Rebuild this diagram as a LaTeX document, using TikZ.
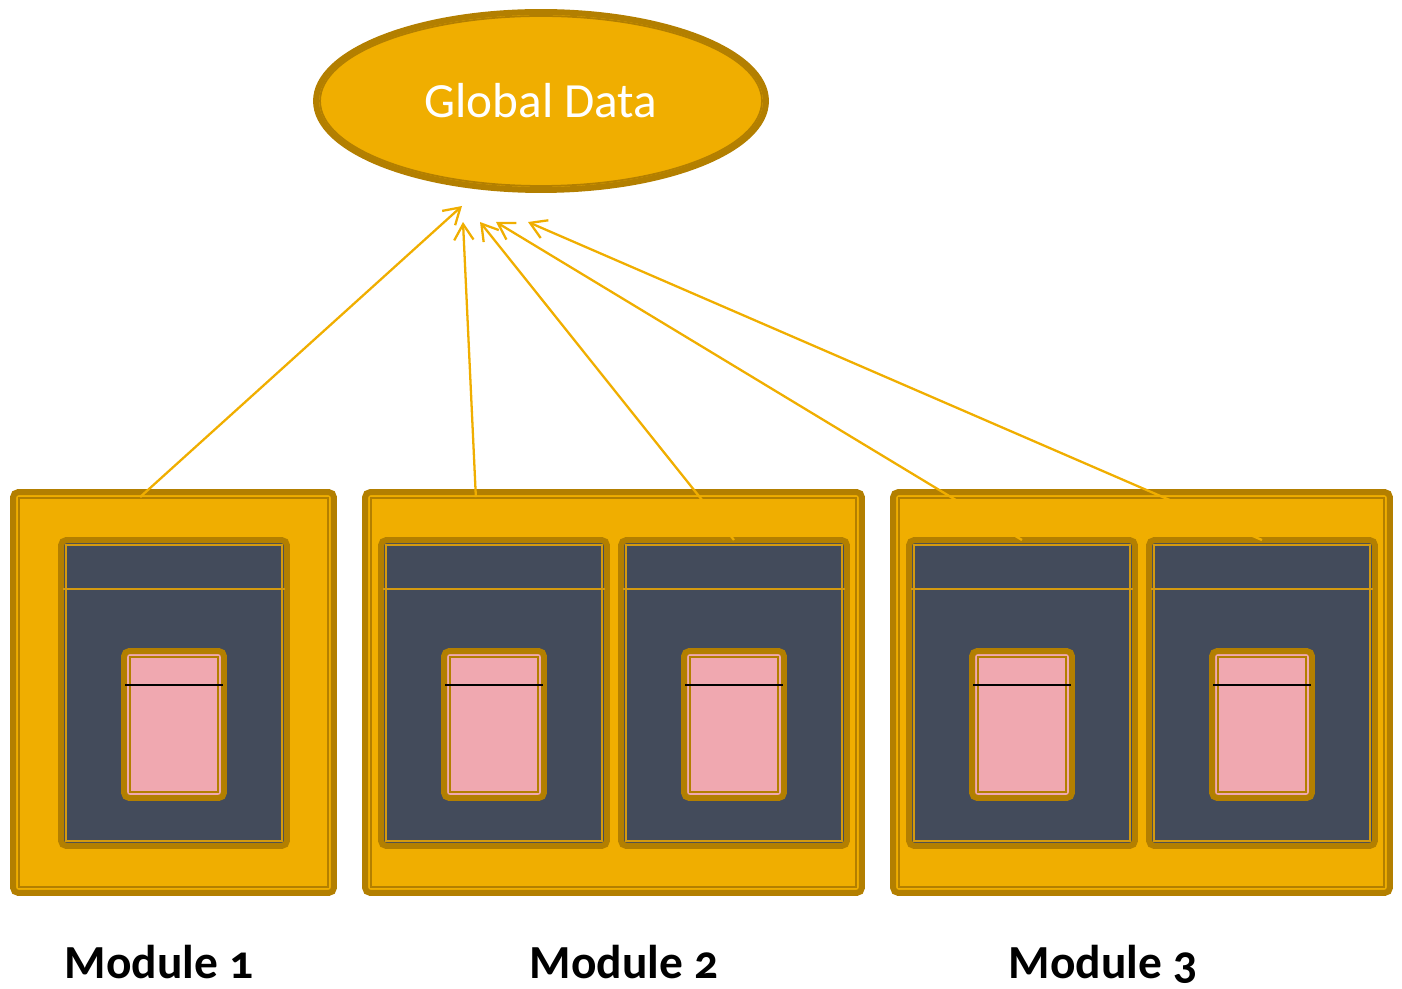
\documentclass[tikz,border=0pt]{standalone}
\usepackage{fontspec}
\setmainfont{Carlito}
\usetikzlibrary{arrows.meta,calc,shapes.geometric}
\definecolor{modgold}{HTML}{F0AE00}
\definecolor{modbrown}{HTML}{B37F00}
\definecolor{modslate}{HTML}{434B5B}
\definecolor{modpink}{HTML}{F0A8B0}
\definecolor{modtrim}{HTML}{D49A10}

\begin{document}
\begin{tikzpicture}[x=0.02cm, y=-0.02cm,
    module/.style={rectangle, draw=modbrown, fill=modgold, line width=3.4pt, rounded corners=3pt, outer sep=0pt, inner sep=0pt, minimum width=9.94cm, minimum height=8.02cm},
    unit/.style={rectangle, draw=modbrown, fill=modslate, line width=3.4pt, rounded corners=3pt, outer sep=0pt, inner sep=0pt, minimum width=4.52cm, minimum height=6.12cm},
    item/.style={rectangle, draw=modbrown, fill=modpink, line width=3.4pt, rounded corners=3pt, outer sep=0pt, inner sep=0pt, minimum width=2cm, minimum height=2.94cm},
    trim/.style={draw=modbrown, line width=1pt},
    link/.style={draw=modgold, line width=1.3pt, -{Straight Barb[length=9pt,width=11pt]}},
    modlabel/.style={anchor=base, font=\fontsize{27}{32}\selectfont\bfseries\addfontfeatures{Numbers=OldStyle}}]

    \useasboundingbox (0,0) rectangle (1402,989);

    % global data
    \node[ellipse, draw=modbrown, fill=modgold, line width=3.4pt, inner sep=0pt, minimum width=9.0cm, minimum height=3.56cm, text=white, font=\fontsize{28}{34}\selectfont] (global) at (541,101) {Global Data};
    \draw[trim] (global.center) ellipse [x radius=4.42cm, y radius=1.70cm];

    % modules
    \node[module, minimum width=6.42cm] (mod1) at (173.5,692.5) {};
    \node[module] (mod2) at (613.5,692.5) {};
    \node[module] (mod3) at (1141.5,692.5) {};
    \foreach \m in {mod1,mod2,mod3}
        \draw[trim] ($(\m.north west)+(6,6)$) rectangle ($(\m.south east)+(-6,-6)$);

    \node[unit] (unit1) at (174,693) {};
    \node[unit] (unit2a) at (494,693) {};
    \node[unit] (unit2b) at (734,693) {};
    \node[unit] (unit3a) at (1022,693) {};
    \node[unit] (unit3b) at (1262,693) {};
    \foreach \u in {unit1,unit2a,unit2b,unit3a,unit3b} {
        \draw[trim, draw=modtrim] ($(\u.north west)+(5,5)$) rectangle ($(\u.south east)+(-5,-5)$);
        \draw[draw=modtrim, line width=0.8pt] ($(\u.north west)+(2,49)$) -- ($(\u.north east)+(-2,49)$);
    }

    \node[item] (item1) at (174,724.5) {};
    \node[item] (item2a) at (494,724.5) {};
    \node[item] (item2b) at (734,724.5) {};
    \node[item] (item3a) at (1022,724.5) {};
    \node[item] (item3b) at (1262,724.5) {};
    \foreach \i in {item1,item2a,item2b,item3a,item3b} {
        \draw[trim] ($(\i.north west)+(6,6)$) rectangle ($(\i.south east)+(-6,-6)$);
        \draw[black, line width=0.7pt] ($(\i.north west)+(1,34)$) -- ($(\i.north east)+(-1,34)$);
    }

    % arrows to the global data
    \coordinate (tip1) at (462,206);
    \coordinate (tip2) at (463,222);
    \coordinate (tip3) at (480,222);
    \coordinate (tip4) at (496,222);
    \coordinate (tip5) at (528,222);
    \draw[link] ($(mod1.north west)!0.396!(mod1.north east)+(0,5)$) -- (tip1);
    \draw[link] ($(mod2.north west)!0.223!(mod2.north east)+(0,5)$) -- (tip2);
    \draw[link] (unit2b.north) -- (tip3);
    \draw[link] (unit3a.north) -- (tip4);
    \draw[link] (unit3b.north) -- (tip5);

    \node[modlabel] (lab1) at (159,978) {Module 1};
    \node[modlabel] (lab2) at (624,978) {Module 2};
    \node[modlabel] (lab3) at (1103,978) {Module 3};
\end{tikzpicture}
\end{document}
